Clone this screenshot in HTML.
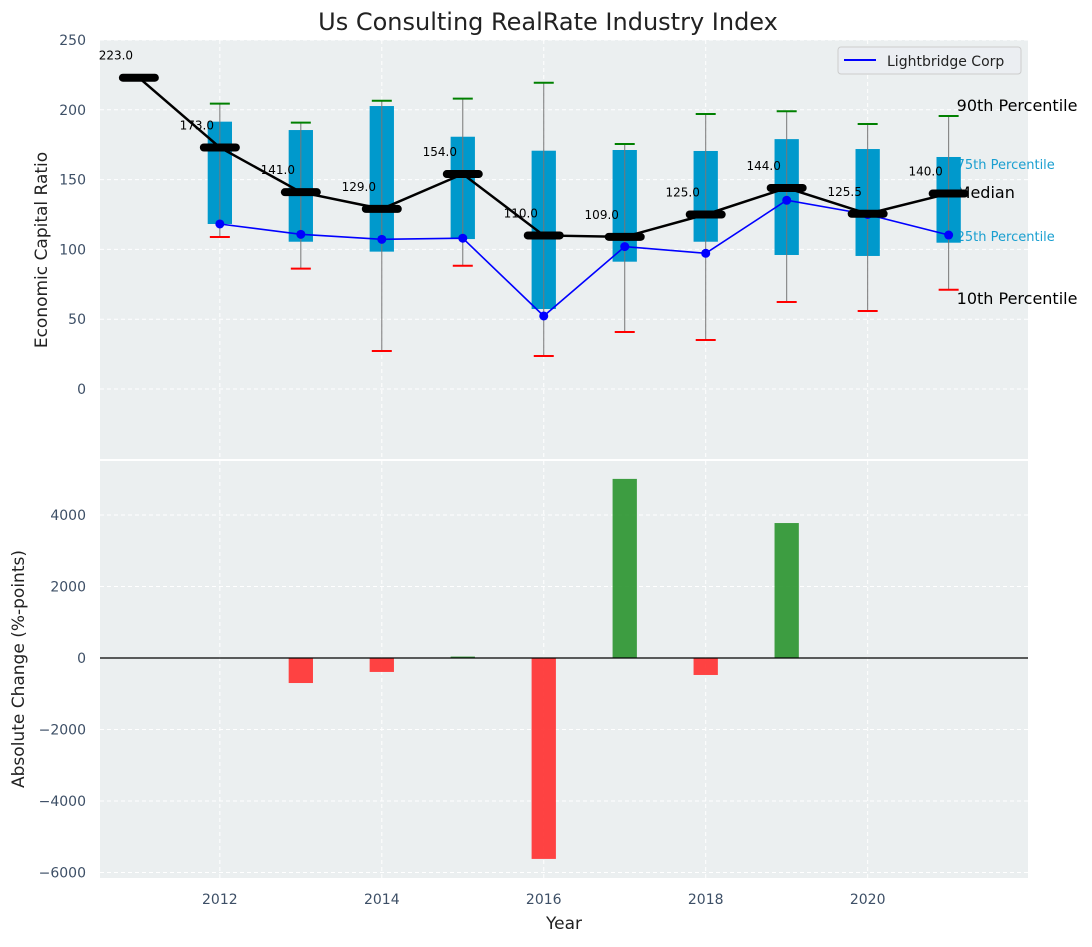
<!DOCTYPE html>
<html><head><meta charset="utf-8"><style>
body{margin:0;background:#fff;}
svg text{font-family:"DejaVu Sans","Liberation Sans",sans-serif;}
</style></head><body>
<svg id="c" width="1092" height="942" xmlns="http://www.w3.org/2000/svg"></svg>
<script>
const years=[2011,2012,2013,2014,2015,2016,2017,2018,2019,2020,2021];
const medians=[223,173,141,129,154,110,109,125,144,125.5,140];
const boxYears=[2012,2013,2014,2015,2016,2017,2018,2019,2020,2021];
const p75=[191.5,185.5,202.7,180.7,170.7,171.2,170.5,179,171.9,166.2];
const p25=[118.2,105.5,98.4,107.4,57.3,91.2,105.5,96,95.3,104.8];
const p90=[204.4,190.8,206.5,208,219.4,175.5,197,199,189.8,195.6];
const p10=[108.9,86.2,27.2,88.3,23.6,40.8,35.1,62.3,55.9,71.1];
const company=[118.2,110.8,107.2,108,52.3,102,97.2,135.2,125,110.3];
const changeYears=[2012,2013,2014,2015,2016,2017,2018,2019,2020,2021];
const changes=[0,-700,-390,40,-5620,5010,-475,3775,0,0];
const topTicks=[0,50,100,150,200,250];
const botTicks=[-6000,-4000,-2000,0,2000,4000];
const xTicks=[2012,2014,2016,2018,2020];

const NS="http://www.w3.org/2000/svg";
const svg=document.getElementById('c');
function el(tag,attrs,parent,text){const e=document.createElementNS(NS,tag);for(const k in attrs)e.setAttribute(k,attrs[k]);if(text!==undefined)e.textContent=text;(parent||svg).appendChild(e);return e;}
const L=100,R=1028;
const x=v=>L+(v-2010.52)*(R-L)/(2021.98-2010.52);
const yT=v=>389-v*1.396;
const yB=v=>658-v*0.03575;
const PX=81.0;

let g=el('rect',{x:L,y:40,width:R-L,height:419,fill:'#ebeff0'});

g=el('rect',{x:L,y:461,width:R-L,height:417,fill:'#ebeff0'});


topTicks.forEach(t=>{el('line',{x1:L,x2:R,y1:yT(t),y2:yT(t),stroke:'#fff','stroke-dasharray':'4,3','stroke-width':1});
 const tx=el('text',{x:86,y:yT(t)+5,'text-anchor':'end','font-size':14,fill:'#3d4f66'},svg,t);
 });
botTicks.forEach(t=>{el('line',{x1:L,x2:R,y1:yB(t),y2:yB(t),stroke:'#fff','stroke-dasharray':'4,3','stroke-width':1});
 const tx=el('text',{x:86,y:yB(t)+5,'text-anchor':'end','font-size':14,fill:'#3d4f66'},svg,t<0?'\u2212'+(-t):t);
 });
xTicks.forEach(t=>{el('line',{x1:x(t),x2:x(t),y1:40,y2:459,stroke:'#fff','stroke-dasharray':'4,3'});
 el('line',{x1:x(t),x2:x(t),y1:461,y2:878,stroke:'#fff','stroke-dasharray':'4,3'});
 const tx=el('text',{x:x(t),y:904,'text-anchor':'middle','font-size':14,fill:'#3d4f66'},svg,t);
 });

const lx=x(2021)+8;
[['90th Percentile',106,16,'#000'],['75th Percentile',164,13,'#1a9fd0'],['Median',193,16,'#000'],['25th Percentile',236,13,'#1a9fd0'],['10th Percentile',299,16,'#000']].forEach(a=>{
 const t=el('text',{x:lx,y:a[1]+5,'font-size':a[2],fill:a[3]},svg,a[0]);
 });

boxYears.forEach((yr,i)=>{
 const cx=x(yr);
 const b=el('rect',{x:cx-0.15*PX,y:yT(p75[i]),width:0.3*PX,height:yT(p25[i])-yT(p75[i]),fill:'#0099cc'});
 
 el('line',{x1:cx,x2:cx,y1:yT(p90[i]),y2:yT(p10[i]),stroke:'#777','stroke-width':1});
 const c1=el('line',{x1:cx-10,x2:cx+10,y1:yT(p90[i]),y2:yT(p90[i]),stroke:'green','stroke-width':2});
 
 const c2=el('line',{x1:cx-10,x2:cx+10,y1:yT(p10[i]),y2:yT(p10[i]),stroke:'red','stroke-width':2});
 
});
let cl=el('polyline',{points:boxYears.map((yr,i)=>x(yr)+','+yT(company[i])).join(' '),fill:'none',stroke:'#0000ff','stroke-width':1.6});

boxYears.forEach((yr,i)=>{const p=el('circle',{cx:x(yr),cy:yT(company[i]),r:4.5,fill:'#0000ff'});
 });
let ml=el('polyline',{points:years.map((yr,i)=>x(yr)+','+yT(medians[i])).join(' '),fill:'none',stroke:'#000','stroke-width':2.5});

years.forEach((yr,i)=>{
 const m=el('line',{x1:x(yr)-16,x2:x(yr)+16,y1:yT(medians[i]),y2:yT(medians[i]),stroke:'#000','stroke-width':8,'stroke-linecap':'round'});
 
 const t=el('text',{x:x(yr)-23,y:yT(medians[i])-18,'text-anchor':'middle','font-size':12,fill:'#000'},svg,medians[i].toFixed(1));
 
});

let lg=el('g',{});
el('rect',{x:838,y:47,width:183,height:27,rx:3,fill:'#ebeef2',stroke:'#ccc'},lg);
el('line',{x1:844,x2:876,y1:60,y2:60,stroke:'#0000ff','stroke-width':2},lg);
el('text',{x:887,y:66,'font-size':14,fill:'#222'},lg,'Lightbridge Corp');

changeYears.forEach((yr,i)=>{const v=changes[i];if(v===0)return;
 const b=el('rect',{x:x(yr)-0.15*PX,y:Math.min(yB(0),yB(v)),width:0.3*PX,height:Math.abs(yB(v)-yB(0)),fill:v>0?'#2e9632':'#ff3333','fill-opacity':0.92});
 });
el('line',{x1:L,x2:R,y1:yB(0),y2:yB(0),stroke:'#000','stroke-width':1.2});

let t=el('text',{x:548,y:30,'text-anchor':'middle','font-size':24,fill:'#222'},svg,'Us Consulting RealRate Industry Index');

t=el('text',{x:564,y:929,'text-anchor':'middle','font-size':17,fill:'#222'},svg,'Year');

t=el('text',{x:47,y:250,'text-anchor':'middle','font-size':17,fill:'#222',transform:'rotate(-90 47 250)'},svg,'Economic Capital Ratio');

t=el('text',{x:24,y:669,'text-anchor':'middle','font-size':17,fill:'#222',transform:'rotate(-90 24 669)'},svg,'Absolute Change (%-points)');

</script>
</body></html>
